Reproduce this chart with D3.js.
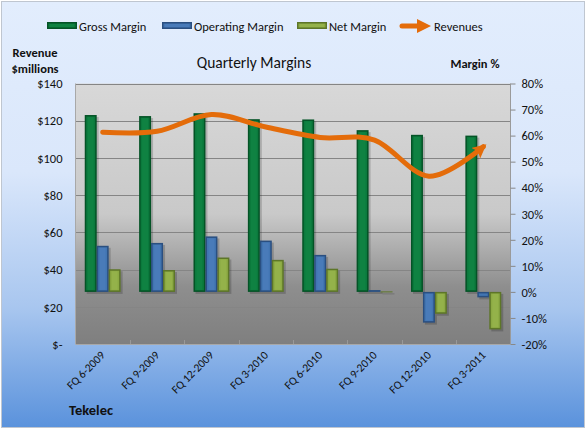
<!DOCTYPE html>
<html><head><meta charset="utf-8">
<script src="https://cdn.jsdelivr.net/npm/d3@7"></script>
<style>
html,body{margin:0;padding:0;background:#fff;}
svg{display:block;font-family:Carlito,Calibri,Lato,"Open Sans",sans-serif;}
</style></head>
<body>
<svg id="chart" width="587" height="430"></svg>
<script>
const categories = ["FQ 6-2009","FQ 9-2009","FQ 12-2009","FQ 3-2010","FQ 6-2010","FQ 9-2010","FQ 12-2010","FQ 3-2011"];
const grossMargin = [0.679,0.675,0.686,0.663,0.662,0.621,0.603,0.600];
const operatingMargin = [0.177,0.188,0.213,0.197,0.142,0.007,-0.118,-0.021];
const netMargin = [0.087,0.084,0.132,0.123,0.089,0.002,-0.084,-0.144];
const revenues = [113.8,114.3,123.3,116.6,111.0,109.6,90.2,106.0];
const revTicks = [0,20,40,60,80,100,120,140];
const pctTicks = [-0.2,-0.1,0,0.1,0.2,0.3,0.4,0.5,0.6,0.7,0.8];
const seriesNames = ["Gross Margin","Operating Margin","Net Margin","Revenues"];

const W=587,H=430;
const L=75.5,R=510.5,T=83.5,B=344;
const svg=d3.select("#chart");
const defs=svg.append("defs");

// backgrounds
const bg=defs.append("linearGradient").attr("id","bg").attr("x1",0).attr("y1",0).attr("x2",0).attr("y2",1);
[[0,"#e2edfd"],[0.4,"#dae7fb"],[0.72,"#a8c6ef"],[1,"#5a92dc"]].forEach(s=>bg.append("stop").attr("offset",s[0]).attr("stop-color",s[1]));
const pg=defs.append("linearGradient").attr("id","pg").attr("x1",0).attr("y1",0).attr("x2",0).attr("y2",1);
[[0,"#d8d8d8"],[0.5,"#c9c9c9"],[0.78,"#8e8e8e"],[1,"#7f7f7f"]].forEach(s=>pg.append("stop").attr("offset",s[0]).attr("stop-color",s[1]));

svg.append("rect").attr("x",1.5).attr("y",1.5).attr("width",W-4).attr("height",H-4)
  .attr("fill","url(#bg)").attr("stroke","#bfc6d0").attr("stroke-width",1);

svg.append("rect").attr("x",L).attr("y",T).attr("width",R-L).attr("height",B-T).attr("fill","url(#pg)");

const x=d3.scaleBand().domain(categories).range([L,R]).padding(0);
const yRev=d3.scaleLinear().domain([0,140]).range([B,T]);
const yPct=d3.scaleLinear().domain([-0.2,0.8]).range([B,T]);
const inner=d3.scaleBand().domain([0,1,2]).range([0,x.bandwidth()*0.66]).padding(0);
const groupOff=x.bandwidth()*0.17;

// gridlines
svg.append("g").selectAll("line").data(revTicks.filter(d=>d>0)).join("line")
  .attr("x1",L).attr("x2",R).attr("y1",d=>Math.round(yRev(d))+0.5).attr("y2",d=>Math.round(yRev(d))+0.5)
  .attr("stroke","#858585").attr("stroke-width",1);

// axes lines
svg.append("line").attr("x1",L).attr("x2",L).attr("y1",T).attr("y2",B).attr("stroke","#a8a8a8");
svg.append("line").attr("x1",L).attr("x2",R).attr("y1",B+0.5).attr("y2",B+0.5).attr("stroke","#a8a8a8");
svg.append("line").attr("x1",R).attr("x2",R).attr("y1",T).attr("y2",B).attr("stroke","#9a9a9a");
// category tick marks
svg.append("g").selectAll("line").data(categories.slice(1)).join("line")
  .attr("x1",d=>Math.round(x(d))+0.5).attr("x2",d=>Math.round(x(d))+0.5).attr("y1",B-4).attr("y2",B)
  .attr("stroke","#999");

// left axis
const la=svg.append("g").attr("transform",`translate(${L-6},0)`)
  .call(d3.axisLeft(yRev).tickValues(revTicks).tickSize(0).tickPadding(7)
     .tickFormat(d=>d===0?"$-":"$"+d));
la.select(".domain").remove();
la.selectAll("text").attr("font-size",12.5).attr("fill","#111").attr("font-family","Carlito,Calibri,Lato,sans-serif").attr("dy","0.34em");

// right axis
const ra=svg.append("g").attr("transform",`translate(${R},0)`)
  .call(d3.axisRight(yPct).tickValues(pctTicks).tickSize(5).tickPadding(6)
     .tickFormat(d=>Math.round(d*100)+"%"));
ra.select(".domain").remove();
ra.selectAll("line").attr("stroke","#888");
ra.selectAll("text").attr("font-size",12.5).attr("fill","#111").attr("font-family","Carlito,Calibri,Lato,sans-serif").attr("dy","0.34em");

// bars
const colors=[{face:"#0b7a3d",edge:"#045326",hi:"#138a48"},{face:"#4275b2",edge:"#2a4f80",hi:"#4f82c0"},{face:"#8caa43",edge:"#5d7628",hi:"#9cba52"}];
const series=[grossMargin,operatingMargin,netMargin];
const barG=svg.append("g");
function bevel(g,x0,y0,w,h,c,shadow){
  if(shadow){
    g.append("rect").attr("x",x0+2).attr("y",y0+2).attr("width",w).attr("height",h).attr("fill","#000").attr("opacity",0.18);
  }
  g.append("rect").attr("x",x0).attr("y",y0).attr("width",w).attr("height",h).attr("fill",c.edge);
  if(w>3&&h>3){
    g.append("rect").attr("x",x0+1.5).attr("y",y0+1.5).attr("width",w-3).attr("height",h-3).attr("fill",c.face);
    if(w>6&&h>6) g.append("rect").attr("x",x0+3).attr("y",y0+2).attr("width",w-6).attr("height",h-4).attr("fill",c.hi).attr("opacity",0.5);
  }
}
series.forEach((vals,si)=>{
  vals.forEach((v,i)=>{
    const x0=x(categories[i])+groupOff+inner(si);
    const y0=Math.min(yPct(v),yPct(0)), h=Math.max(1,Math.abs(yPct(v)-yPct(0)));
    bevel(barG,x0,y0,inner.bandwidth(),h,colors[si],true);
  });
});

// revenue line
const orange="#e46c0a";
defs.append("marker").attr("id","arrow").attr("markerUnits","userSpaceOnUse")
  .attr("viewBox","0 0 14 14").attr("refX",10).attr("refY",7).attr("markerWidth",14).attr("markerHeight",14)
  .attr("orient","auto").append("path").attr("d","M0,0 L14,7 L0,14 L3,7 Z").attr("fill",orange);
const line=d3.line().x((d,i)=>x(categories[i])+x.bandwidth()/2).y(d=>yRev(d)).curve(d3.curveCardinal.tension(0));
svg.append("path").datum(revenues).attr("d",line).attr("fill","none").attr("stroke",orange)
  .attr("stroke-width",5).attr("stroke-linecap","round").attr("marker-end","url(#arrow)");

// x labels
svg.append("g").selectAll("text").data(categories).join("text")
  .attr("transform",d=>`translate(${x(d)+x.bandwidth()/2+3},${B+12}) rotate(-45)`)
  .attr("text-anchor","end").attr("font-size",11.5).attr("fill","#111").text(d=>d);

// titles
svg.append("text").attr("x",254).attr("y",68).attr("text-anchor","middle").attr("font-size",15.5).attr("fill","#111").text("Quarterly Margins");
svg.append("text").attr("x",35).attr("y",57).attr("text-anchor","middle").attr("font-size",12.5).attr("font-weight","bold").attr("fill","#111").text("Revenue");
svg.append("text").attr("x",35).attr("y",73).attr("text-anchor","middle").attr("font-size",12.5).attr("font-weight","bold").attr("fill","#111").text("$millions");
svg.append("text").attr("x",475).attr("y",68).attr("text-anchor","middle").attr("font-size",12.5).attr("font-weight","bold").attr("fill","#111").text("Margin %");
svg.append("text").attr("x",69).attr("y",415).attr("font-size",14.5).attr("font-weight","bold").attr("fill","#111").text("Tekelec");

// legend
const lg=svg.append("g");
const legX=[47,162,297,400];
seriesNames.forEach((n,i)=>{
  if(i<3){
    bevel(lg,legX[i],22,30,7,colors[i],false);
  } else {
    lg.append("line").attr("x1",legX[i]+2).attr("x2",legX[i]+20).attr("y1",26).attr("y2",26)
      .attr("stroke",orange).attr("stroke-width",5).attr("stroke-linecap","round");
    lg.append("path").attr("d",`M${legX[i]+17},19 L${legX[i]+31},26 L${legX[i]+17},33 Z`).attr("fill",orange);
  }
  lg.append("text").attr("x",legX[i]+(i<3?32:34)).attr("y",30.5).attr("font-size",12.5).attr("fill","#111").text(n);
});
</script>
</body></html>
